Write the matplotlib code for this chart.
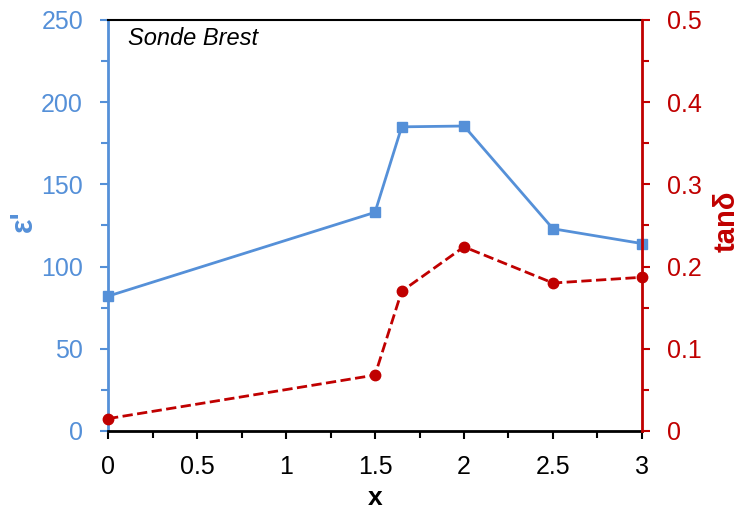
import matplotlib
matplotlib.use("Agg")
import matplotlib.pyplot as plt
from matplotlib.ticker import MultipleLocator

x = [0, 1.5, 1.65, 2, 2.5, 3]
eps = [82, 133, 185, 185.5, 123, 114]
tand = [0.015, 0.068, 0.170, 0.224, 0.180, 0.187]
xticks = [0, 0.5, 1, 1.5, 2, 2.5, 3]
xticklabels = ['0', '0.5', '1', '1.5', '2', '2.5', '3']
y2ticks = [0, 0.1, 0.2, 0.3, 0.4, 0.5]
y2ticklabels = ['0', '0.1', '0.2', '0.3', '0.4', '0.5']

blue = "#5590d8"
red = "#c00000"

plt.rcParams['font.family'] = ['Liberation Sans', 'DejaVu Sans']

W, H = 742, 511
fig = plt.figure(figsize=(W / 100, H / 100), dpi=100)
ax = fig.add_axes([0.1456, 0.1566, 0.7196, 0.8043])
ax.plot(x, eps, color=blue, lw=2, marker='s', ms=7.5, zorder=3, clip_on=False)
ax.set_xlim(0, 3)
ax.set_ylim(0, 250)
ax.xaxis.set_minor_locator(MultipleLocator(0.25))
ax.yaxis.set_major_locator(MultipleLocator(50))
ax.yaxis.set_minor_locator(MultipleLocator(25))
ax.set_xticks(xticks)
ax.set_xticklabels(xticklabels)
ax.tick_params(axis='x', which='both', direction='out', colors='black', labelsize=18, width=1.5, pad=11)
ax.tick_params(axis='x', which='major', length=6)
ax.tick_params(axis='x', which='minor', length=5)
ax.tick_params(axis='y', which='both', direction='out', colors=blue, labelsize=18, width=1.5, pad=12)
ax.tick_params(axis='y', which='major', length=6)
ax.tick_params(axis='y', which='minor', length=5)
ax.spines['left'].set_color(blue)
ax.spines['left'].set_linewidth(2)
ax.spines['bottom'].set_linewidth(2)
ax.spines['top'].set_linewidth(1.5)
ax.spines['right'].set_visible(False)
ax.set_xlabel('x', fontsize=19, fontweight='bold', labelpad=5)
ax.text(0.037, 0.982, 'Sonde Brest', transform=ax.transAxes, fontsize=17,
        style='italic', va='top', ha='left')

ax2 = ax.twinx()
ax2.plot(x, tand, color=red, lw=2, ls='--', marker='o', ms=7.5, zorder=3, clip_on=False)
ax2.set_ylim(0, 0.5)
ax2.yaxis.set_minor_locator(MultipleLocator(0.05))
ax2.set_yticks(y2ticks)
ax2.set_yticklabels(y2ticklabels)
ax2.tick_params(axis='y', which='both', direction='out', colors=red, labelsize=18, width=1.5, pad=12)
ax2.tick_params(axis='y', which='major', length=6)
ax2.tick_params(axis='y', which='minor', length=5)
ax2.spines['right'].set_color(red)
ax2.spines['right'].set_linewidth(2)
for s in ['left', 'top', 'bottom']:
    ax2.spines[s].set_visible(False)

fig.text(24 / W, 1 - 221 / H, "ε'", fontsize=22, fontweight='bold', color=blue,
         rotation=90, ha='center', va='center')
fig.text(727 / W, 1 - 221 / H, 'tanδ', fontsize=21, fontweight='bold', color=red,
         rotation=90, ha='center', va='center')

fig.savefig('out.png', dpi=100)
